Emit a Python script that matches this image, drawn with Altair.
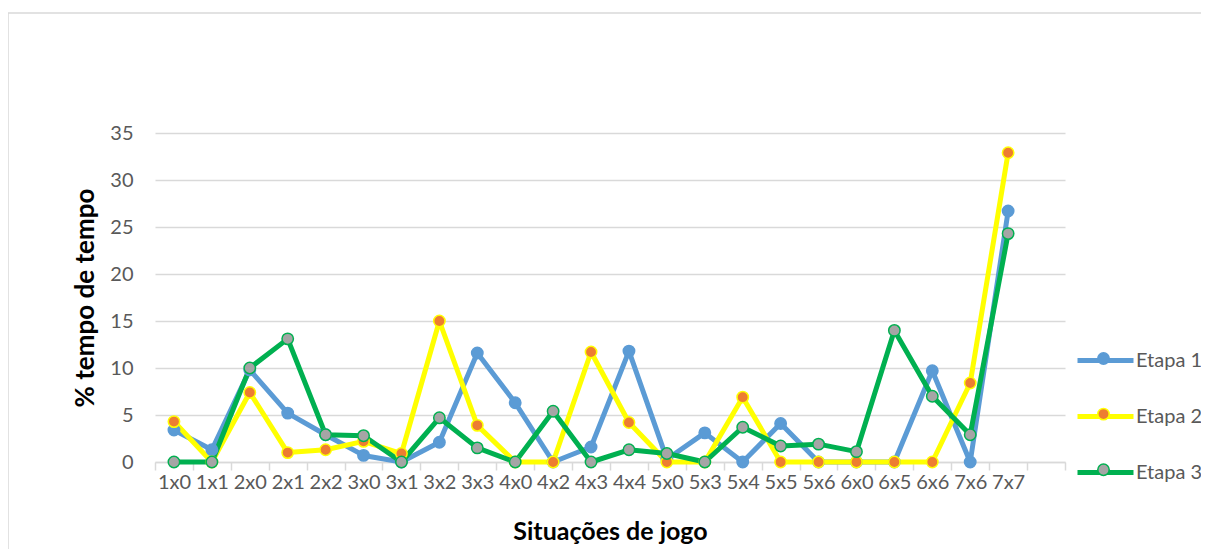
import altair as alt
import pandas as pd

categories = ["1x0", "1x1", "2x0", "2x1", "2x2", "3x0", "3x1", "3x2", "3x3", "4x0",
              "4x2", "4x3", "4x4", "5x0", "5x3", "5x4", "5x5", "5x6", "6x0", "6x5",
              "6x6", "7x6", "7x7"]
etapa1 = [3.4, 1.3, 9.8, 5.2, 2.9, 0.7, 0.0, 2.1, 11.6, 6.3, 0.0, 1.6, 11.8, 0.3,
          3.1, 0.0, 4.1, 0.0, 0.0, 0.0, 9.7, 0.0, 26.7]
etapa2 = [4.3, 0.0, 7.4, 1.0, 1.3, 2.2, 0.9, 15.0, 3.9, 0.0, 0.0, 11.7, 4.2, 0.0,
          0.0, 6.9, 0.0, 0.0, 0.0, 0.0, 0.0, 8.4, 32.9]
etapa3 = [0.0, 0.0, 10.0, 13.1, 2.9, 2.8, 0.0, 4.7, 1.5, 0.0, 5.4, 0.0, 1.3, 0.9,
          0.0, 3.7, 1.7, 1.9, 1.1, 14.0, 7.0, 2.9, 24.3]
series = ["Etapa 1", "Etapa 2", "Etapa 3"]
line_colors = ["#5B9BD5", "#FFFF00", "#00B050"]
marker_fills = ["#5B9BD5", "#ED7D31", "#A5A5A5"]
y_ticks = [0, 5, 10, 15, 20, 25, 30, 35]

rows = []
for name, vals in zip(series, [etapa1, etapa2, etapa3]):
    for c, v in zip(categories, vals):
        rows.append({"cat": c, "series": name, "value": v})
df = pd.DataFrame(rows)

x_domain = categories + [" "]
FONT = "Lato"
GRID = "#D9D9D9"
TXT = "#595959"

x_enc = alt.X("cat:N", sort=x_domain,
              scale=alt.Scale(domain=x_domain, paddingInner=0, paddingOuter=0),
              axis=alt.Axis(title="Situações de jogo", labelAngle=0, grid=False,
                            domainColor=GRID, domainWidth=1.5, tickColor=GRID,
                            tickWidth=1.5, tickSize=8, tickBand="extent",
                            labelFont=FONT, labelFontSize=20, labelColor=TXT,
                            labelPadding=2, titleFont=FONT, titleFontSize=25,
                            titleFontWeight="bold", titleColor="#000000",
                            titlePadding=27))
y_enc = alt.Y("value:Q", scale=alt.Scale(domain=[0, 35], nice=False),
              axis=alt.Axis(title="% tempo de tempo", values=y_ticks, grid=True,
                            gridColor=GRID, gridWidth=1.5, domain=False, ticks=False,
                            labelFont=FONT, labelFontSize=20, labelColor=TXT,
                            labelPadding=22, titleFont=FONT, titleFontSize=26,
                            titleFontWeight="bold", titleColor="#000000",
                            titlePadding=11))

frame = alt.Chart(pd.DataFrame({"k": [0]})).mark_rect(
    filled=False, stroke=GRID, strokeWidth=1.5
).encode(x=alt.value(-147), x2=alt.value(1200), y=alt.value(-120), y2=alt.value(440))

line = alt.Chart(df).mark_line(strokeWidth=5, strokeJoin="round", strokeCap="round").encode(
    x=x_enc, y=y_enc,
    color=alt.Color("series:N", scale=alt.Scale(domain=series, range=line_colors),
                    legend=alt.Legend(title=None, orient="none", legendX=920, legendY=197,
                                      symbolType="stroke", symbolSize=3136,
                                      symbolStrokeWidth=5, labelFont=FONT,
                                      labelFontSize=20, labelColor=TXT, labelOffset=0,
                                      rowPadding=15, padding=0)),
    detail="series:N",
)

pt_legend = alt.Legend(title=None, orient="none", legendX=942, legendY=219,
                       symbolType="circle", symbolSize=130, symbolStrokeWidth=1.5,
                       labelFont=FONT, labelFontSize=1, labelExpr="''",
                       labelOffset=0, rowPadding=36.6, padding=0)

points = alt.Chart(df).mark_point(filled=True, size=130, strokeWidth=1.5, opacity=1).encode(
    x=x_enc, y=y_enc,
    fill=alt.Fill("series:N", scale=alt.Scale(range=marker_fills), legend=pt_legend),
    stroke=alt.Stroke("series:N", scale=alt.Scale(range=line_colors), legend=pt_legend),
)

chart = alt.layer(frame, line, points).properties(
    width=910, height=329,
    padding={"left": 147, "top": 125, "right": 136, "bottom": 87},
    autosize=alt.AutoSizeParams(type="none"),
    background="#FFFFFF",
).configure_view(stroke=None)

chart.save("out.html", embed_options={"renderer": "svg", "actions": False})
